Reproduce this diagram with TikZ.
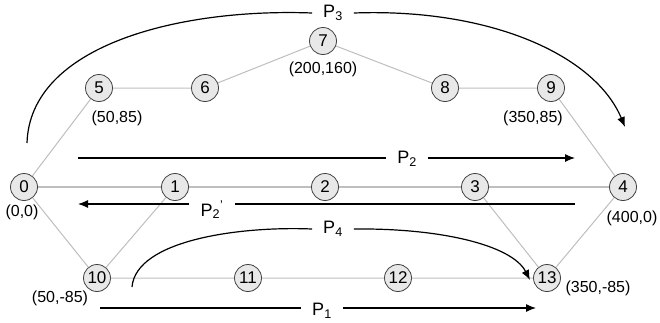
\documentclass[tikz,border=0pt]{standalone}
\usepackage{fontspec}
\setmainfont{Liberation Sans}
\usetikzlibrary{arrows.meta}
\definecolor{nodegray}{RGB}{232,232,232}
\definecolor{linkgray}{RGB}{190,190,190}

\tikzset{
  router/.style={circle,draw=black!75,fill=nodegray,line width=.8pt,minimum size=27pt,inner sep=0pt,font=\fontsize{17}{17}\selectfont},
  link/.style={draw=linkgray,line width=1pt},
  pathlbl/.style={font=\fontsize{18}{18}\selectfont,inner xsep=11pt,inner ysep=1pt},
  coordlbl/.style={font=\fontsize{16}{16}\selectfont,inner sep=0pt},
  route/.style={draw=black,line width=1.2pt,-{Latex[length=10pt,width=8pt]}}
}

\begin{document}
\begin{tikzpicture}[x=1pt,y=-1pt]
    \useasboundingbox (0,0) rectangle (660,322);
    % links
    \coordinate (a0) at (24,187); \coordinate (a4) at (623,187);
    \draw[link,line width=2pt] (a0)--(a4);
    \node[router] (n0) at (24,187) {0};
    \node[router] (n1) at (175,187) {1};
    \node[router] (n2) at (325,187) {2};
    \node[router] (n3) at (475,187) {3};
    \node[router] (n4) at (623,187) {4};
    \node[router] (n5) at (99,88) {5};
    \node[router] (n6) at (205,88) {6};
    \node[router] (n7) at (323,41) {7};
    \node[router] (n8) at (445,88) {8};
    \node[router] (n9) at (551,88) {9};
    \node[router] (n10) at (97,278) {10};
    \node[router] (n11) at (248,278) {11};
    \node[router] (n12) at (398,278) {12};
    \node[router] (n13) at (547,278) {13};
    \draw[link] (n0)--(n5)--(n6)--(n7)--(n8)--(n9)--(n4);
    \draw[link] (n0)--(n10)--(n1);
    \draw[link] (n10)--(n11)--(n12)--(n13)--(n3);
    \draw[link] (n13)--(n4);
    % coordinates
    \node[coordlbl] (c0) at (22,212) {(0,0)};
    \node[coordlbl] (c5) at (117,118) {(50,85)};
    \node[coordlbl] (c7) at (323,69) {(200,160)};
    \node[coordlbl] (c9) at (533,118) {(350,85)};
    \node[coordlbl] (c4) at (632,218) {(400,0)};
    \node[coordlbl] (c10) at (60,298) {(50,-85)};
    \node[coordlbl] (c13) at (598,288) {(350,-85)};
    % paths
    \node[pathlbl] (p3) at (333,13) {P\textsubscript{3}};
    \coordinate (p3s) at (27,143); \coordinate (p3e) at (625,127);
    \draw[draw=black,line width=1.2pt] (p3s) .. controls (30,45) and (180,8) .. (p3.west);
    \draw[route] (p3.east) .. controls (490,8) and (595,55) .. (p3e);
    \node[pathlbl] (p2) at (407,159) {P\textsubscript{2}};
    \coordinate (p2s) at (78,158); \coordinate (p2e) at (575,158);
    \draw[draw=black,line width=1.2pt] (p2s)--(p2s-|p2.west);
    \draw[route] (p2e-|p2.east)--(p2e);
    \node[pathlbl] (p2r) at (212,210) {P\textsubscript{2}\textsuperscript{'}};
    \coordinate (q2s) at (575,204); \coordinate (q2e) at (78,204);
    \draw[draw=black,line width=1.2pt] (q2s)--(q2s-|p2r.east);
    \draw[route] (q2e-|p2r.west)--(q2e);
    \node[pathlbl] (p4) at (333,229) {P\textsubscript{4}};
    \coordinate (p4s) at (132,287); \coordinate (p4e) at (530,280);
    \draw[draw=black,line width=1.2pt] (p4s) .. controls (136,240) and (240,226) .. (p4.west);
    \draw[route] (p4.east) .. controls (440,228) and (512,245) .. (p4e);
    \node[pathlbl] (p1) at (322,311) {P\textsubscript{1}};
    \coordinate (p1s) at (100,308); \coordinate (p1e) at (536,308);
    \draw[draw=black,line width=1.2pt] (p1s)--(p1s-|p1.west);
    \draw[route] (p1e-|p1.east)--(p1e);
  \end{tikzpicture}
\end{document}
